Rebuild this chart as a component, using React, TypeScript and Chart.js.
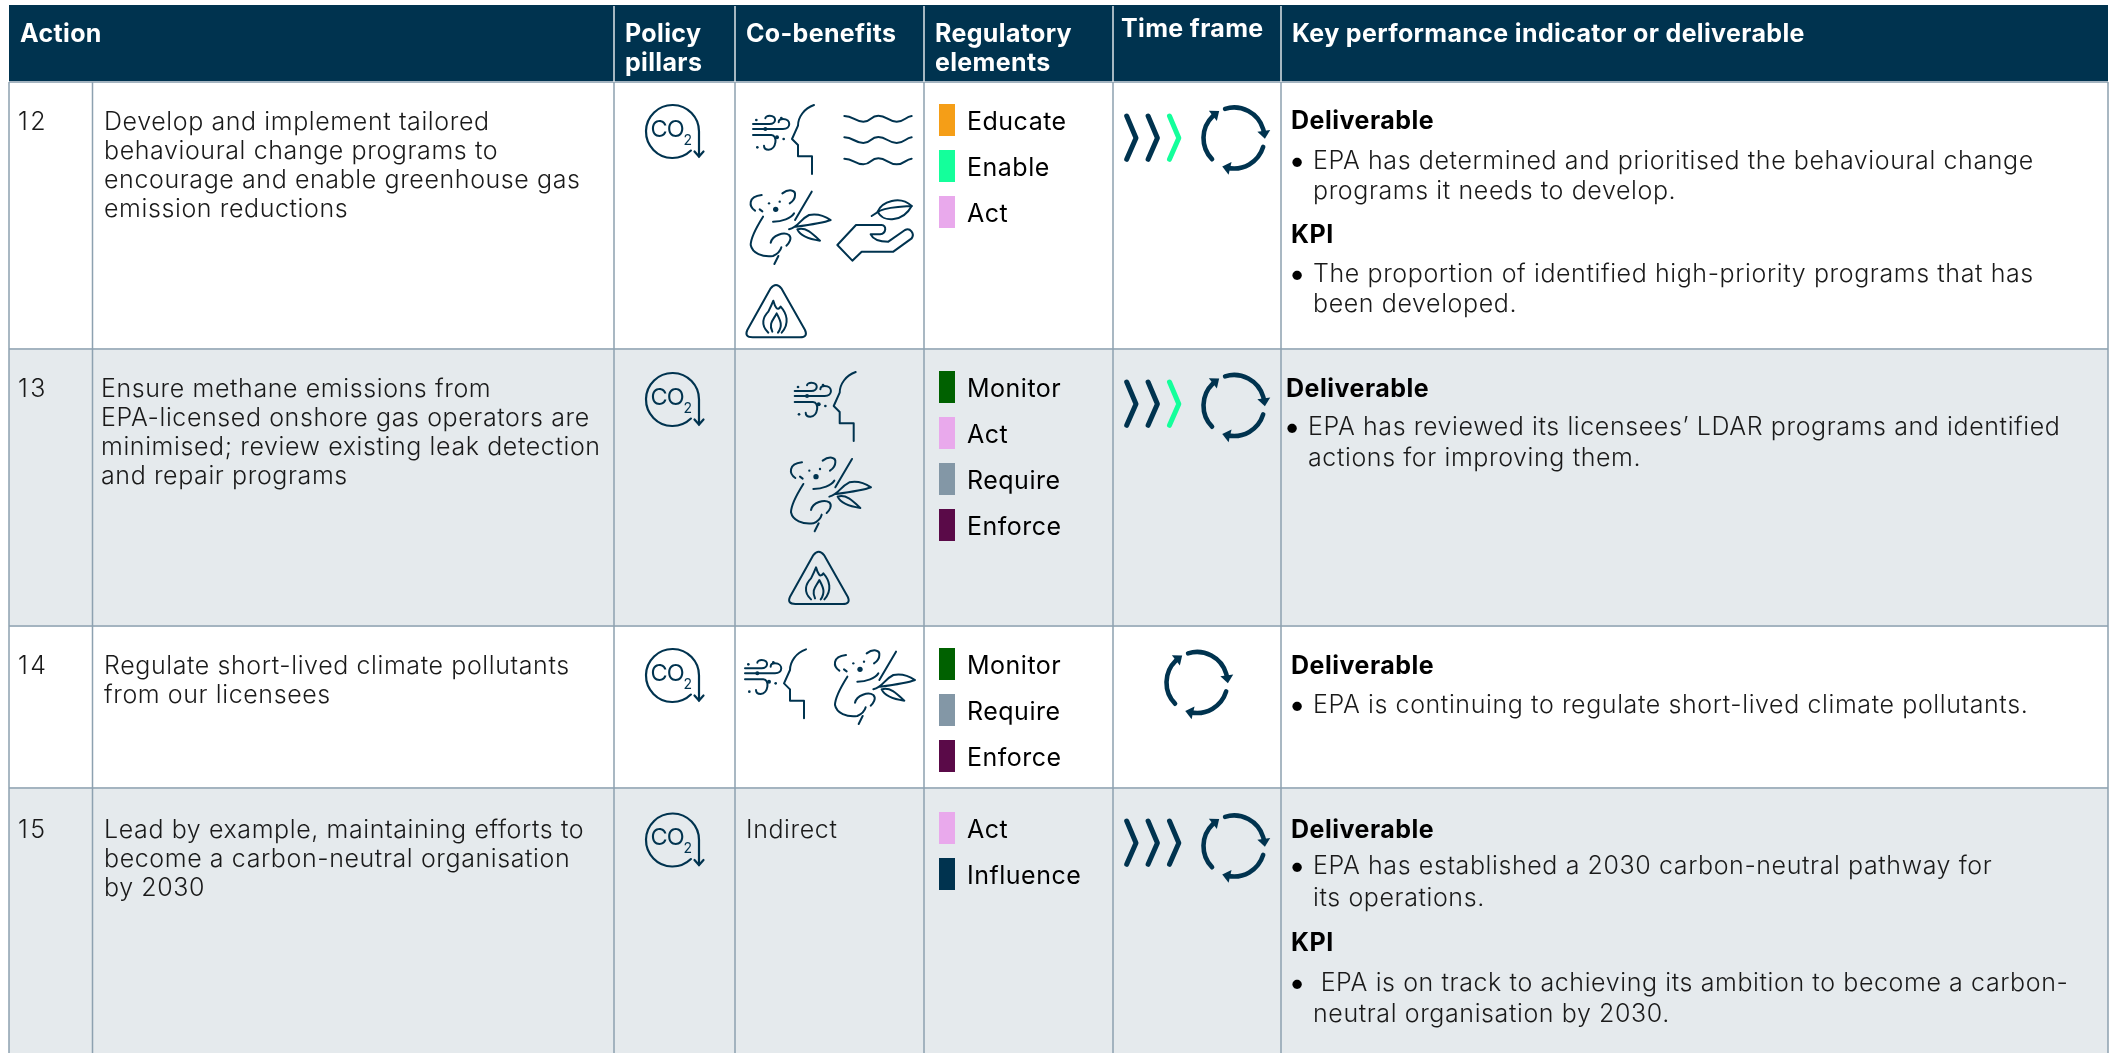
import React, { useEffect, useRef } from "react";
import { Chart, registerables } from "chart.js";

Chart.register(...registerables);

/* ---------- table content ---------- */
const headerCells = [
  { lines: ["Action"], col: 0 },
  { lines: ["Policy", "pillars"], col: 2 },
  { lines: ["Co-benefits"], col: 3 },
  { lines: ["Regulatory", "elements"], col: 4 },
  { lines: ["Time frame"], col: 5 },
  { lines: ["Key performance indicator or deliverable"], col: 6 },
];
const actionNumbers = ["12", "13", "14", "15"];
const actionTexts = [
  ["Develop and implement tailored", "behavioural change programs to", "encourage and enable greenhouse gas", "emission reductions"],
  ["Ensure methane emissions from", "EPA-licensed onshore gas operators are", "minimised; review existing leak detection", "and repair programs"],
  ["Regulate short-lived climate pollutants", "from our licensees"],
  ["Lead by example, maintaining efforts to", "become a carbon-neutral organisation", "by 2030"],
];
const regulatoryElements = [
  ["Educate", "Enable", "Act"],
  ["Monitor", "Act", "Require", "Enforce"],
  ["Monitor", "Require", "Enforce"],
  ["Act", "Influence"],
];
const elementColours: Record<string, string> = {
  Educate: "#F59E17",
  Enable: "#14FF9B",
  Act: "#E9A9EC",
  Monitor: "#006100",
  Require: "#8397A6",
  Enforce: "#5A0A48",
  Influence: "#00334F",
};
const kpiLines = [
  ["#Deliverable", "•EPA has determined and prioritised the behavioural change", " programs it needs to develop.", "#KPI", "•The proportion of identified high-priority programs that has", " been developed."],
  ["#Deliverable", "•EPA has reviewed its licensees’ LDAR programs and identified", " actions for improving them."],
  ["#Deliverable", "•EPA is continuing to regulate short-lived climate pollutants."],
  ["#Deliverable", "•EPA has established a 2030 carbon-neutral pathway for", " its operations.", "#KPI", "• EPA is on track to achieving its ambition to become a carbon-", " neutral organisation by 2030."],
];
const indirectLabel = "Indirect";
const timeFrameChevrons = [["#00334F", "#00334F", "#14FF9B"], ["#00334F", "#00334F", "#14FF9B"], [], ["#00334F", "#00334F", "#00334F"]];

/* ---------- layout ---------- */
const W = 2109;
const H = 1053;
const colEdges = [9, 92.5, 614, 735, 924, 1113, 1281, 2108];
const rowEdges = [5, 82, 349, 626, 788, 1053];
const firstBaselines = [130, 397, 674, 838];
const actionX = [104, 101, 104, 104];
const kpiBaselines = [
  [129, 169, 199, 243, 282, 312],
  [397, 435, 466],
  [674, 713],
  [838, 874, 906, 951, 991, 1022],
];
const kpiX = [1291, 1286, 1291, 1291];
const co2CentreY = [131.5, 399.5, 675.5, 840];
const cycleCentres = [[1234, 138], [1234, 405.5], [1197, 682.5], [1234, 846]];
const chevronDy = [0, 266, 0, 705];
const iconPlacement: [string, number, number][][] = [
  [["breath", 728, 85.7], ["waves", 740, 90], ["koala", 635.7, 170], ["hand", 740, 90], ["fire", 740, 90]],
  [["breath", 769.7, 352.7], ["koala", 676, 437.3], ["fire", 782.7, 356.7]],
  [["breath", 720, 630], ["koala", 720, 630]],
  [],
];

const NAVY = "#00334F";
const RULE = "#8DA1B0";
const BAND = "#E5EAED";
const BODY_FONT = "Inter";

/* ---------- icons, in 3x local units ---------- */
const iconPaths: Record<string, string[]> = {
  breath: [
    "M258 58C228 68 210 95 210 120L192 160L210 178V212H252V265",
    "M75 115H125C145 115 148 90 125 90C118 90 112 94 112 98",
    "M75 130H165C190 130 190 100 165 100C157 100 152 104 152 110",
    "M75 148H130C150 148 145 192 122 192C112 192 108 188 108 180",
  ],
  koala: [
    "M358 122C340 110 335 80 378 75",
    "M372 118L380 124",
    "M440 70C460 55 480 60 478 75C478 85 470 95 462 100",
    "M412 155C440 155 465 145 475 130",
    "M528 65L478 150",
    "M460 178C490 170 490 150 520 135C545 130 570 140 585 150C560 160 520 165 480 170",
    "M485 178C510 170 530 190 553 212C525 208 495 200 485 178",
    "M382 140C360 175 345 205 345 225C350 250 380 262 412 258C430 250 435 240 437 232",
    "M405 218C410 195 445 185 460 195C470 205 460 220 452 227",
    "M428 258L416 282",
  ],
  waves: [
    "M313 78C340 78 345 95 370 95C395 95 390 77 415 77C440 77 445 95 470 95C495 95 495 80 515 78",
    "M313 142C340 142 345 159 370 159C395 159 390 141 415 141C440 141 445 159 470 159C495 159 495 144 515 142",
    "M313 206C340 206 345 223 370 223C395 223 390 205 415 205C440 205 445 223 470 223C495 223 495 208 515 206",
  ],
  hand: [
    "M413 365C425 335 480 315 515 348C490 395 430 400 413 365Z",
    "M395 378L420 362C450 350 490 350 515 348",
    "M292 465L348 405H425C440 405 440 430 420 433H392C400 450 420 455 445 455L495 420C510 412 525 430 515 445L460 485H365L337 512Z",
  ],
  fire: [
    "M92 595Q108 575 124 595L195 720Q205 742 180 742H38Q12 742 22 720Z",
    "M85 728C60 705 70 680 85 665C90 655 95 645 100 632C105 650 112 665 122 650C140 670 150 700 125 728",
    "M97 725C85 700 100 690 110 670C120 690 130 705 114 728",
  ],
};
const iconDots: Record<string, [number, number, number][]> = {
  breath: [[85, 103, 4], [160, 97, 4], [112, 130, 6], [147, 155, 6], [167, 160, 4], [88, 185, 4]],
  koala: [[400, 100, 3.5], [432, 95, 3.5], [420, 118, 8]],
};

/* ---------- datasets built from the arrays ---------- */
const bandRows = [2, 4]; // shaded rows (index into rowEdges)
const tableMid = (colEdges[0] + colEdges[7]) / 2;
const tableWidth = colEdges[7] - colEdges[0];

function swatches() {
  const out: { x: number; y: [number, number]; c: string }[] = [];
  regulatoryElements.forEach((list, r) =>
    list.forEach((name, i) => {
      const top = firstBaselines[r] - 26 + i * 46;
      out.push({ x: 947, y: [top, top + 32], c: elementColours[name] });
    })
  );
  return out;
}

function ruleSet() {
  const sets: any[] = [];
  colEdges.forEach((x, i) => {
    sets.push({
      type: "line", order: 2, borderColor: RULE, borderWidth: 1.5, pointRadius: 0,
      data: [{ x, y: rowEdges[1] }, { x, y: H }],
    });
    if (i !== 1 && i !== 0 && i !== 7) {
      sets.push({
        type: "line", order: 2, borderColor: "#DCE3E8", borderWidth: 1.5, pointRadius: 0,
        data: [{ x, y: rowEdges[0] + 1 }, { x, y: rowEdges[1] }],
      });
    }
  });
  rowEdges.slice(1, 5).forEach((y) => {
    sets.push({
      type: "line", order: 2, borderColor: "#A4B4C0", borderWidth: 2, pointRadius: 0,
      data: [{ x: colEdges[0], y }, { x: colEdges[7], y }],
    });
  });
  return sets;
}

/* ---------- drawing of table text and icons ---------- */
function label(ctx: CanvasRenderingContext2D, t: string, x: number, y: number, font: string, colour: string, spacing: string) {
  ctx.font = font;
  (ctx as any).letterSpacing = spacing;
  ctx.fillStyle = colour;
  ctx.fillText(t, x, y);
}

function strokeIcon(ctx: CanvasRenderingContext2D, name: string, tx: number, ty: number) {
  ctx.save();
  ctx.translate(tx, ty);
  ctx.scale(1 / 3, 1 / 3);
  ctx.strokeStyle = NAVY;
  ctx.fillStyle = NAVY;
  ctx.lineWidth = 6;
  ctx.lineCap = "round";
  ctx.lineJoin = "round";
  iconPaths[name].forEach((d) => ctx.stroke(new Path2D(d)));
  (iconDots[name] || []).forEach(([x, y, r]) => {
    ctx.beginPath();
    ctx.arc(x, y, r, 0, Math.PI * 2);
    ctx.fill();
  });
  ctx.restore();
}

function co2Icon(ctx: CanvasRenderingContext2D, cx: number, cy: number) {
  ctx.save();
  ctx.strokeStyle = NAVY;
  ctx.lineWidth = 2.2;
  ctx.lineCap = "round";
  ctx.beginPath();
  ctx.arc(cx, cy, 26.5, (46 * Math.PI) / 180, Math.PI * 2);
  ctx.lineTo(cx + 26.5, cy + 25);
  ctx.stroke();
  ctx.beginPath();
  ctx.moveTo(cx + 22, cy + 20);
  ctx.lineTo(cx + 26.5, cy + 25);
  ctx.lineTo(cx + 31, cy + 20);
  ctx.stroke();
  label(ctx, "CO", cx - 22, cy + 5, `400 23.5px ${BODY_FONT}`, NAVY, "-1px");
  label(ctx, "2", cx + 11, cy + 13, `400 14px ${BODY_FONT}`, NAVY, "0px");
  ctx.restore();
}

function cycleIcon(ctx: CanvasRenderingContext2D, cx: number, cy: number) {
  const r = 30.5;
  const segs = [[-107, -8], [17, 103], [136, 232]];
  ctx.save();
  ctx.strokeStyle = NAVY;
  ctx.fillStyle = NAVY;
  ctx.lineWidth = 4.6;
  ctx.lineCap = "round";
  segs.forEach(([a, b]) => {
    const ra = (a * Math.PI) / 180;
    const rb = (b * Math.PI) / 180;
    ctx.beginPath();
    ctx.arc(cx, cy, r, ra, rb);
    ctx.stroke();
    const ex = cx + r * Math.cos(rb);
    const ey = cy + r * Math.sin(rb);
    const tx = -Math.sin(rb);
    const ty = Math.cos(rb);
    ctx.beginPath();
    ctx.moveTo(ex + tx * 5, ey + ty * 5);
    ctx.lineTo(ex - tx * 3 + ty * 6.5, ey - ty * 3 - tx * 6.5);
    ctx.lineTo(ex - tx * 3 - ty * 6.5, ey - ty * 3 + tx * 6.5);
    ctx.closePath();
    ctx.fill();
  });
  ctx.restore();
}

function chevronIcons(ctx: CanvasRenderingContext2D, colours: string[], dy: number) {
  ctx.save();
  ctx.lineWidth = 5;
  ctx.lineCap = "round";
  ctx.lineJoin = "round";
  colours.forEach((c, i) => {
    const x = 1126.7 + i * 21.4;
    ctx.strokeStyle = c;
    ctx.beginPath();
    ctx.moveTo(x, 116 + dy);
    ctx.lineTo(x + 9.3, 138 + dy);
    ctx.lineTo(x, 159.3 + dy);
    ctx.stroke();
  });
  ctx.restore();
}

const tablePlugin = {
  id: "tableContent",
  afterDatasetsDraw(chart: any) {
    const ctx: CanvasRenderingContext2D = chart.ctx;
    const sx = chart.scales.x;
    const sy = chart.scales.y;
    const px = (v: number) => sx.getPixelForValue(v);
    const py = (v: number) => sy.getPixelForValue(v);
    ctx.save();
    ctx.textBaseline = "alphabetic";
    ctx.textAlign = "left";

    const headFont = `700 25px ${BODY_FONT}`;
    headerCells.forEach((h) => {
      const x = colEdges[h.col] + (h.col === 5 ? 8 : 11);
      const y0 = h.col === 5 ? 37 : 42;
      h.lines.forEach((l, i) => label(ctx, l, px(x), py(y0 + i * 28.5), headFont, "#FFFFFF", "0.35px"));
    });

    const bodyFont = `300 25px ${BODY_FONT}`;
    const bodyCol = "#1A1A1A";
    const sp = "0.6px";
    actionNumbers.forEach((n, r) => {
      const b = firstBaselines[r];
      label(ctx, n, px(18), py(b), bodyFont, bodyCol, "2.5px");
      actionTexts[r].forEach((l, i) => label(ctx, l, px(actionX[r]), py(b + i * 29.1), bodyFont, bodyCol, sp));
      co2Icon(ctx, px(672.5), py(co2CentreY[r]));
      regulatoryElements[r].forEach((name, i) =>
        label(ctx, name, px(967), py(b + i * 46), `400 25px ${BODY_FONT}`, "#000000", "0.5px")
      );
      iconPlacement[r].forEach(([name, tx, ty]) => strokeIcon(ctx, name, tx, ty));
      chevronIcons(ctx, timeFrameChevrons[r], chevronDy[r]);
      cycleIcon(ctx, px(cycleCentres[r][0]), py(cycleCentres[r][1]));
      kpiLines[r].forEach((l, i) => {
        const y = py(kpiBaselines[r][i]);
        const x0 = kpiX[r];
        if (l[0] === "#") label(ctx, l.slice(1), px(x0), y, `700 25px ${BODY_FONT}`, "#000000", "0.5px");
        else if (l[0] === "•") {
          label(ctx, "•", px(x0 - 1), y + 2, `700 30px ${BODY_FONT}`, "#000000", "0px");
          label(ctx, l.slice(1), px(x0 + 22), y, bodyFont, bodyCol, sp);
        } else label(ctx, l.slice(1), px(x0 + 22), y, bodyFont, bodyCol, sp);
      });
    });
    label(ctx, indirectLabel, px(746), py(firstBaselines[3]), bodyFont, bodyCol, sp);
    ctx.restore();
  },
};

export default function App() {
  const ref = useRef<HTMLCanvasElement>(null);
  useEffect(() => {
    document.body.style.margin = "0";
    document.body.style.background = "#FFFFFF";
    const sw = swatches();
    const chart = new Chart(ref.current!, {
      type: "bar",
      data: {
        datasets: [
          {
            type: "bar", order: 5, grouped: false, barThickness: tableWidth, inflateAmount: 0,
            backgroundColor: NAVY,
            data: [{ x: tableMid, y: [rowEdges[0], rowEdges[1]] }],
          },
          {
            type: "bar", order: 4, grouped: false, barThickness: tableWidth, inflateAmount: 0,
            backgroundColor: BAND,
            data: bandRows.map((r) => ({ x: tableMid, y: [rowEdges[r], rowEdges[r + 1]] })),
          },
          ...ruleSet(),
          {
            type: "bar", order: 1, grouped: false, barThickness: 16, inflateAmount: 0,
            backgroundColor: sw.map((s) => s.c),
            data: sw.map((s) => ({ x: s.x, y: s.y })),
          },
        ] as any,
      },
      options: {
        animation: false,
        responsive: false,
        devicePixelRatio: 1,
        layout: { padding: 0 },
        plugins: { legend: { display: false }, tooltip: { enabled: false } },
        scales: {
          x: { type: "linear", min: 0, max: W, display: false, offset: false },
          y: { type: "linear", min: 0, max: H, reverse: true, display: false },
        },
      } as any,
      plugins: [tablePlugin],
    });
    return () => chart.destroy();
  }, []);
  return <canvas ref={ref} width={W} height={H} style={{ display: "block", width: W, height: H }} />;
}
